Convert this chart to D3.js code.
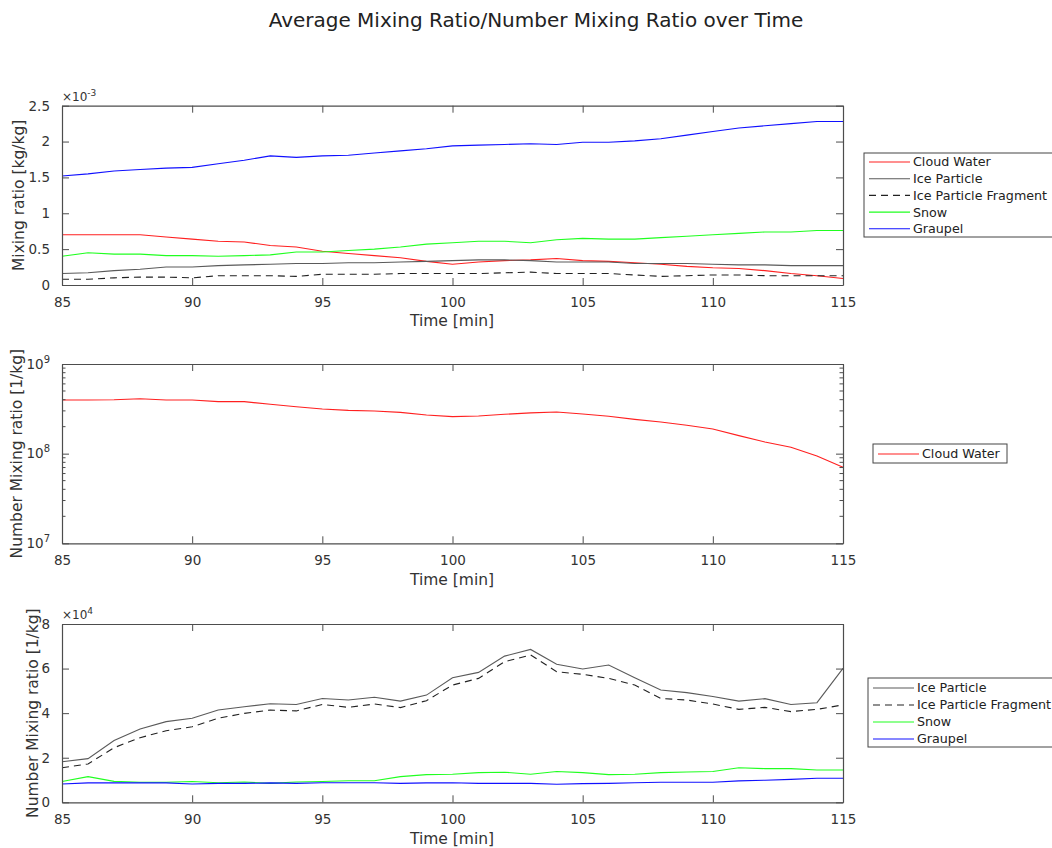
<!DOCTYPE html>
<html><head><meta charset="utf-8">
<script src="https://cdn.jsdelivr.net/npm/d3@7"></script>
<style>body{margin:0;background:#fff}svg{font-family:"DejaVu Sans",sans-serif}</style>
</head><body>
<svg id="c" width="1052" height="848"></svg>
<script>
const time = d3.range(85, 116);
// Panel 1: mixing ratio [kg/kg] (x1e-3)
const cloudWater = [0.70,0.70,0.70,0.70,0.67,0.64,0.61,0.60,0.55,0.53,0.47,0.44,0.41,0.38,0.33,0.29,0.32,0.34,0.35,0.37,0.34,0.33,0.31,0.29,0.26,0.24,0.23,0.20,0.16,0.13,0.09];
const iceParticle = [0.16,0.17,0.20,0.22,0.25,0.25,0.27,0.28,0.29,0.30,0.30,0.31,0.31,0.32,0.33,0.34,0.35,0.35,0.34,0.32,0.32,0.32,0.30,0.30,0.30,0.29,0.28,0.28,0.27,0.27,0.27];
const iceFragment = [0.08,0.08,0.10,0.11,0.11,0.10,0.13,0.13,0.13,0.12,0.15,0.15,0.15,0.16,0.16,0.16,0.16,0.17,0.18,0.16,0.16,0.16,0.14,0.12,0.13,0.14,0.14,0.13,0.13,0.13,0.13];
const snow = [0.40,0.45,0.43,0.43,0.41,0.41,0.40,0.41,0.42,0.46,0.46,0.48,0.50,0.53,0.57,0.59,0.61,0.61,0.59,0.63,0.65,0.64,0.64,0.66,0.68,0.70,0.72,0.74,0.74,0.76,0.76];
const graupel = [1.52,1.55,1.59,1.61,1.63,1.64,1.69,1.74,1.80,1.78,1.80,1.81,1.84,1.87,1.90,1.94,1.95,1.96,1.97,1.96,1.99,1.99,2.01,2.04,2.09,2.14,2.19,2.22,2.25,2.28,2.28];
// Panel 2: cloud water number mixing ratio [1/kg]
const cloudWaterNum = [3.97e8,3.97e8,4.0e8,4.1e8,3.97e8,3.97e8,3.8e8,3.8e8,3.55e8,3.34e8,3.15e8,3.04e8,2.99e8,2.89e8,2.7e8,2.59e8,2.63e8,2.75e8,2.85e8,2.92e8,2.77e8,2.61e8,2.41e8,2.25e8,2.07e8,1.88e8,1.59e8,1.35e8,1.18e8,9.4e7,7.05e7];
// Panel 3: number mixing ratio [1/kg] (x1e4)
const iceParticleNum = [1.82,1.96,2.77,3.29,3.62,3.77,4.14,4.29,4.42,4.39,4.66,4.59,4.71,4.54,4.81,5.59,5.83,6.56,6.86,6.19,5.98,6.16,5.59,5.04,4.92,4.75,4.54,4.65,4.39,4.47,6.01];
const iceFragmentNum = [1.55,1.72,2.45,2.90,3.21,3.39,3.77,3.99,4.14,4.10,4.39,4.26,4.41,4.25,4.56,5.26,5.56,6.31,6.61,5.86,5.74,5.56,5.26,4.66,4.59,4.41,4.17,4.26,4.07,4.17,4.37];
const snowNum = [0.93,1.15,0.94,0.90,0.90,0.93,0.88,0.91,0.85,0.91,0.93,0.97,0.97,1.15,1.24,1.26,1.33,1.35,1.26,1.38,1.33,1.24,1.26,1.33,1.36,1.38,1.55,1.51,1.51,1.45,1.45];
const graupelNum = [0.82,0.87,0.87,0.87,0.87,0.82,0.85,0.85,0.87,0.85,0.88,0.88,0.88,0.85,0.87,0.88,0.85,0.85,0.85,0.81,0.84,0.85,0.88,0.90,0.90,0.90,0.96,0.99,1.03,1.08,1.08];

const xTicks = [85,90,95,100,105,110,115];
const yTicks1 = [0,0.5,1,1.5,2,2.5];
const yTicks3 = [0,2,4,6,8];
const yTicks2 = [1e7,1e8,1e9];

const C = {red:"#ff2020", ice:"#5a5a5a", frag:"#222222", snow:"#20ff20", graupel:"#1010ff"};
const svg = d3.select("#c");
const axisCol = "#4d4d4d", textCol = "#333";

svg.append("text").attr("x",536).attr("y",27).attr("text-anchor","middle")
  .attr("font-size",20).attr("fill","#222").text("Average Mixing Ratio/Number Mixing Ratio over Time");

function panel(cfg){
  const g = svg.append("g");
  const x = d3.scaleLinear().domain([85,115]).range([62,843]);
  const y = cfg.y;
  const [y0,y1] = y.range(); // bottom, top
  const lines = g.append("g");
  cfg.series.forEach(s=>{
    const line = d3.line().x((d,i)=>x(time[i])).y(d=>y(d));
    lines.append("path").datum(s.values).attr("d",line).attr("fill","none")
      .style("stroke",s.color).attr("stroke-width",1.1)
      .attr("stroke-dasharray",s.dash?"7,5":null);
  });
  const bx = g.append("g").attr("transform",`translate(0,${y0})`)
    .call(d3.axisBottom(x).tickValues(xTicks).tickSizeInner(-7).tickSizeOuter(0).tickPadding(12));
  const tx = g.append("g").attr("transform",`translate(0,${y1})`)
    .call(d3.axisTop(x).tickValues(xTicks).tickSizeInner(-7).tickSizeOuter(0).tickFormat(""));
  const ly = g.append("g").attr("transform",`translate(62,0)`)
    .call(d3.axisLeft(y).tickValues(cfg.yTicks).tickSizeInner(-7).tickSizeOuter(0).tickPadding(12).tickFormat(cfg.yFmt||(d=>String(d))));
  const ry = g.append("g").attr("transform",`translate(843,0)`)
    .call(d3.axisRight(y).tickValues(cfg.yTicks).tickSizeInner(-7).tickSizeOuter(0).tickFormat(""));
  [bx,tx,ly,ry].forEach(a=>{
    a.selectAll("path").attr("stroke",axisCol).attr("stroke-width",1.2);
    a.selectAll(".tick line").attr("stroke",axisCol);
    a.selectAll("text").attr("fill",textCol).attr("font-size",13.5).attr("font-family","DejaVu Sans");
  });
  bx.selectAll("text").attr("dy","0.71em");
  if(cfg.logLabels){
    ly.selectAll(".tick text").each(function(d){
      const t = d3.select(this).text("");
      t.append("tspan").text("10");
      t.append("tspan").attr("dy",-6).attr("font-size",10).text(Math.round(Math.log10(d)));
    });
  }
  if(cfg.minor){
    [[62,1],[843,-1]].forEach(([xx,dir])=>{
      g.append("g").selectAll("line").data(cfg.minor).join("line")
        .attr("x1",xx).attr("x2",xx+dir*3.5).attr("y1",d=>y(d)).attr("y2",d=>y(d))
        .attr("stroke",axisCol);
    });
  }
  g.append("text").attr("x",452).attr("y",cfg.xLabY).attr("text-anchor","middle")
    .attr("font-size",15.5).attr("fill",textCol).text("Time [min]");
  g.append("text").attr("transform",`translate(${cfg.yLabX},${(y0+y1)/2}) rotate(-90)`)
    .attr("text-anchor","middle").attr("font-size",15.5).attr("fill",textCol).text(cfg.yLabel);
  if(cfg.exp){
    const t = g.append("text").attr("x",62).attr("y",y1-5).attr("font-size",12).attr("fill",textCol);
    t.append("tspan").text("×10");
    t.append("tspan").attr("dy",-5).attr("font-size",9).text(cfg.exp);
  }
  // legend
  const L = cfg.legend;
  const lg = svg.append("g");
  lg.append("rect").attr("x",L.x).attr("y",L.y).attr("width",L.w).attr("height",L.h)
    .attr("fill","#fff").attr("stroke","#444").attr("stroke-width",1);
  cfg.series.forEach((s,i)=>{
    const yy = L.y + L.first + i*L.step;
    lg.append("path").attr("d",`M${L.x+5},${yy}H${L.x+46}`).attr("fill","none")
      .style("stroke",s.color).attr("stroke-width",1.1).attr("stroke-dasharray",s.dash?"7,5":null);
    lg.append("text").attr("x",L.x+49).attr("y",yy).attr("dy","0.35em").attr("font-size",12.7)
      .attr("fill","#222").text(s.name);
  });
  return g;
}

panel({
  y: d3.scaleLinear().domain([0,2.5]).range([285,105.7]),
  yTicks: yTicks1, yLabel:"Mixing ratio [kg/kg]", yLabX:24, xLabY:326, exp:"-3",
  series:[
    {name:"Cloud Water", values:cloudWater, color:C.red},
    {name:"Ice Particle", values:iceParticle, color:C.ice},
    {name:"Ice Particle Fragment", values:iceFragment, color:C.frag, dash:true},
    {name:"Snow", values:snow, color:C.snow},
    {name:"Graupel", values:graupel, color:C.graupel}
  ],
  legend:{x:864,y:153,w:190,h:84,first:9,step:16.7}
});

const minorLog = [];
[1e7,1e8].forEach(b=>{ for(let k=2;k<=9;k++) minorLog.push(k*b); });
panel({
  y: d3.scaleLog().domain([1e7,1e9]).range([543.3,364]),
  yTicks: yTicks2, minor:minorLog, logLabels:true,
  yLabel:"Number Mixing ratio [1/kg]", yLabX:22, xLabY:585,
  series:[{name:"Cloud Water", values:cloudWaterNum, color:C.red}],
  legend:{x:873,y:444,w:134,h:19,first:10,step:16}
});

panel({
  y: d3.scaleLinear().domain([0,8]).range([802.3,624]),
  yTicks: yTicks3, yLabel:"Number Mixing ratio [1/kg]", yLabX:38, xLabY:844, exp:"4",
  series:[
    {name:"Ice Particle", values:iceParticleNum, color:C.ice},
    {name:"Ice Particle Fragment", values:iceFragmentNum, color:C.frag, dash:true},
    {name:"Snow", values:snowNum, color:C.snow},
    {name:"Graupel", values:graupelNum, color:C.graupel}
  ],
  legend:{x:868,y:678,w:186,h:69,first:10,step:17}
});
</script>
</body></html>
